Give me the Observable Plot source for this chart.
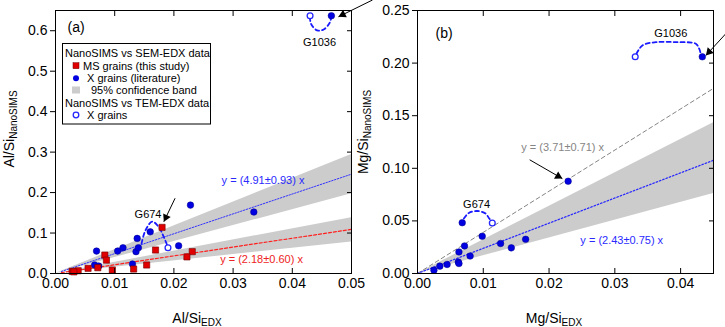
<!DOCTYPE html>
<html><head><meta charset="utf-8">
<script src="https://cdn.jsdelivr.net/npm/d3@7"></script>
<script src="https://cdn.jsdelivr.net/npm/@observablehq/plot@0.6"></script>
<style>
body{margin:0;background:#fff;}
#wrap{display:flex;width:725px;height:327px;}
#wrap svg{overflow:visible;display:block;}
</style></head><body><div id="wrap"><div id="pa"></div><div id="pb"></div></div>
<script>
// ================= Panel (a): Al/Si =================
// MS grains (this study), NanoSIMS vs SEM-EDX
const msAlEdx  = [0.0180, 0.00833, 0.0086, 0.0169, 0.0231, 0.0222, 0.0154, 0.0132, 0.0096, 0.00715, 0.0055, 0.00383, 0.0028, 0.0031];
const msAlSims = [0.114, 0.0456, 0.033, 0.058, 0.054, 0.041, 0.021, 0.011, 0.0086, 0.0143, 0.0128, 0.0069, 0.0054, 0.0040];
// X grains (literature), NanoSIMS vs SEM-EDX
const xAlEdx  = [0.0228, 0.00693, 0.0105, 0.0114, 0.0138, 0.0136, 0.0140, 0.0160, 0.0208, 0.0066, 0.0073, 0.0130, 0.0335, 0.0466];
const xAlSims = [0.169, 0.0554, 0.0554, 0.0636, 0.0867, 0.054, 0.0636, 0.103, 0.0685, 0.021, 0.0185, 0.0234, 0.152, 0.637];
// X grains, NanoSIMS vs TEM-EDX (G1036, G674)
const temAlEdx  = [0.0430, 0.0190];
const temAlSims = [0.637, 0.0636];
// fits and 95% bands (read at the ends)
const fitBlueA = {x: [0.001, 0.05], y: [0.005, 0.2455]};
const fitRedA  = {x: [0.001, 0.05], y: [0.002, 0.109]};
const bandBlueA = {x: [0, 0.05], lo: [0, 0.197], hi: [0, 0.294]};
const bandRedA  = {x: [0, 0.05], lo: [0, 0.078], hi: [0, 0.138]};
// dashed connectors between SEM and TEM values
const arcA1 = {x: [0.04296, 0.0432, 0.0442, 0.0453, 0.04633, 0.04657], y: [0.634, 0.616, 0.601, 0.603, 0.620, 0.634]};
const arcA2 = {x: [0.01453, 0.0152, 0.01633, 0.01745, 0.0183, 0.01887], y: [0.0739, 0.1066, 0.128, 0.1148, 0.090, 0.0697]};
const xTicksA = [0, 0.01, 0.02, 0.03, 0.04, 0.05];
const yTicksA = [0, 0.1, 0.2, 0.3, 0.4, 0.5, 0.6];

// ================= Panel (b): Mg/Si =================
const xMgEdx  = [0.0068, 0.00984, 0.00715, 0.0063, 0.0080, 0.0062, 0.0063, 0.0045, 0.0034, 0.0025, 0.01263, 0.01426, 0.01644, 0.0229, 0.0433];
const xMgSims = [0.0483, 0.0354, 0.0262, 0.0205, 0.0166, 0.0110, 0.0095, 0.0086, 0.0070, 0.0032, 0.0285, 0.0244, 0.0325, 0.0877, 0.206];
const temMgEdx  = [0.01137, 0.0331];
const temMgSims = [0.048, 0.206];
const fitGrayB = {x: [0, 0.045], y: [0, 0.176]};
const fitBlueB = {x: [0, 0.045], y: [0, 0.1076]};
const bandB = {x: [0, 0.045], lo: [0, 0.076], hi: [0, 0.1434]};
const arcB1 = {x: [0.03329, 0.0342, 0.03623, 0.03927, 0.04231, 0.04282, 0.04307], y: [0.2089, 0.2168, 0.2199, 0.2199, 0.2184, 0.2137, 0.2089]};
const arcB2 = {x: [0.00705, 0.00781, 0.00909, 0.01035, 0.01085, 0.01122], y: [0.0522, 0.0576, 0.0594, 0.0570, 0.0528, 0.0500]};
const xTicksB = [0, 0.01, 0.02, 0.03, 0.04];
const yTicksB = [0, 0.05, 0.10, 0.15, 0.20, 0.25];

// ---------- helpers ----------
const FONT = "'Liberation Sans', Arial, Helvetica, sans-serif";
const BLUE = "#0000e0", BLUE_L = "#2626ff", RED = "#e00000", GRAY_BAND = "#cccccc";
const pts = (xs, ys) => xs.map((x, i) => ({x, y: ys[i]}));
const band = b => b.x.map((x, i) => ({x, lo: b.lo[i], hi: b.hi[i]}));

function arrowMarks(arrows, kx, ky) {
  return arrows.flatMap(a => {
    const dxp = (a.x2 - a.x1) * kx, dyp = -(a.y2 - a.y1) * ky;
    const L = Math.hypot(dxp, dyp), ux = dxp / L, uy = dyp / L;
    const ang = Math.atan2(ux, -uy) * 180 / Math.PI;
    const back = 4.8;
    return [
      Plot.link([a], {x1: "x1", y1: "y1", x2: "x2", y2: "y2", stroke: "black", strokeWidth: 1}),
      Plot.dot([a], {x: "x2", y: "y2", symbol: "triangle", r: 3.1, fill: "black", stroke: "none", rotate: ang, dx: -ux * back, dy: -uy * back})
    ];
  });
}
function frameAxes(xt, yt, xfmt, yfmt) {
  return [
    Plot.frame({stroke: "black", strokeWidth: 1}),
    Plot.axisY({ticks: yt, anchor: "left", tickSize: 5, tickPadding: 3, tickFormat: d3.format(yfmt), label: null}),
    Plot.axisY({ticks: yt, anchor: "right", tickSize: 5, dx: -5, tickFormat: () => "", label: null}),
    Plot.axisX({ticks: xt, anchor: "bottom", tickSize: 0, tickPadding: 5, tickFormat: d3.format(xfmt), label: null}),
    Plot.axisX({ticks: xt, anchor: "bottom", tickSize: 5, dy: -5, tickFormat: () => "", label: null}),
    Plot.axisX({ticks: xt, anchor: "top", tickSize: 5, dy: 5, tickFormat: () => "", label: null})
  ];
}
function titles(svg, yMain, ySub, yx, yy, xMain, xSub, xx, xy) {
  const s = d3.select(svg);
  const t = s.append("text").attr("transform", `translate(${yx},${yy}) rotate(-90)`)
    .attr("text-anchor", "middle").attr("font-size", 14).attr("fill", "black");
  t.append("tspan").text(yMain);
  t.append("tspan").attr("font-size", 10).attr("dy", 3).text(ySub);
  const u = s.append("text").attr("x", xx).attr("y", xy)
    .attr("text-anchor", "middle").attr("font-size", 14).attr("fill", "black");
  u.append("tspan").text(xMain);
  u.append("tspan").attr("font-size", 10).attr("dy", 3).text(xSub);
}
const lineOpts = (stroke, w, dash, extra = {}) => ({x: "x", y: "y", stroke, strokeWidth: w, strokeDasharray: dash, ...extra});
const arcOpts = lineOpts("#1a1aff", 1.8, "4,3", {curve: "catmull-rom"});

// ---------- Panel (a) ----------
const WA = 360, HA = 327, mA = {l: 55, r: 9, t: 10, b: 54};
const kxA = (WA - mA.l - mA.r) / 0.05, kyA = (HA - mA.t - mA.b) / 0.65;
const plotA = Plot.plot({
  width: WA, height: HA, marginLeft: mA.l, marginRight: mA.r, marginTop: mA.t, marginBottom: mA.b,
  x: {domain: [0, 0.05], label: null}, y: {domain: [0, 0.65], label: null},
  style: {fontFamily: FONT, fontSize: "14px", background: "transparent", overflow: "visible", color: "black"},
  marks: [
    Plot.areaY(band(bandBlueA), {x: "x", y1: "lo", y2: "hi", fill: GRAY_BAND}),
    Plot.areaY(band(bandRedA), {x: "x", y1: "lo", y2: "hi", fill: GRAY_BAND}),
    Plot.line(pts(fitBlueA.x, fitBlueA.y), lineOpts("#3333ff", 1, "1.5,1.5")),
    Plot.line(pts(fitRedA.x, fitRedA.y), lineOpts("#ff2020", 1.2, "3,2")),
    Plot.line(pts(arcA1.x, arcA1.y), arcOpts),
    Plot.line(pts(arcA2.x, arcA2.y), arcOpts),
    ...arrowMarks([
      {x1: 0.05355, y1: 0.676, x2: 0.0478, y2: 0.6345},
      {x1: 0.0202, y1: 0.186, x2: 0.0183, y2: 0.128}
    ], kxA, kyA),
    Plot.dot(pts(xAlEdx, xAlSims), {x: "x", y: "y", r: 3.3, fill: BLUE, stroke: "#00008a", strokeWidth: 0.5}),
    Plot.dot(pts(msAlEdx, msAlSims), {x: "x", y: "y", symbol: "square", r: 3.5, fill: RED, stroke: "#700000", strokeWidth: 0.6}),
    Plot.dot(pts(temAlEdx, temAlSims), {x: "x", y: "y", r: 2.9, fill: "white", stroke: BLUE_L, strokeWidth: 1.3}),
    Plot.text(["G1036"], {x: 0.0446, y: 0.572, text: d => d, fontSize: 11, fill: "black"}),
    Plot.text(["G674"], {x: 0.01563, y: 0.1448, text: d => d, fontSize: 11, fill: "black"}),
    Plot.text(["y = (4.91±0.93) x"], {x: 0.03505, y: 0.231, text: d => d, fontSize: 11, fill: "#2a2aff"}),
    Plot.text(["y = (2.18±0.60) x"], {x: 0.0348, y: 0.0352, text: d => d, fontSize: 11, fill: "#ee2222"}),
    Plot.text(["(a)"], {frameAnchor: "top-left", text: d => d, dx: 12, dy: 12, fontSize: 14, textAnchor: "start", lineAnchor: "top"}),
    ...frameAxes(xTicksA, yTicksA, ".2f", ".1f")
  ]
});
titles(plotA, "Al/Si", "NanoSIMS", 14, 129, "Al/Si", "EDX", 197, 323);

// legend (panel a)
{
  const g = d3.select(plotA).append("g").attr("font-size", 11).attr("fill", "black").attr("text-anchor", "start");
  g.append("rect").attr("x", 62.5).attr("y", 43.5).attr("width", 148).attr("height", 80.5)
    .attr("fill", "white").attr("stroke", "black").attr("stroke-width", 1);
  const tx = (x, y, s) => g.append("text").attr("x", x).attr("y", y).attr("text-anchor", "start").text(s);
  tx(65, 57.3, "NanoSIMS vs SEM-EDX data");
  g.append("rect").attr("x", 73).attr("y", 62.7).attr("width", 6).attr("height", 6).attr("fill", RED).attr("stroke", "#700000").attr("stroke-width", 0.5);
  tx(83, 69.7, "MS grains (this study)");
  g.append("circle").attr("cx", 76).attr("cy", 78.3).attr("r", 3).attr("fill", BLUE);
  tx(87, 82.3, "X grains (literature)");
  g.append("rect").attr("x", 72).attr("y", 86.5).attr("width", 8).attr("height", 7).attr("fill", GRAY_BAND);
  tx(91, 94, "95% confidence band");
  tx(65, 106.7, "NanoSIMS vs TEM-EDX data");
  g.append("circle").attr("cx", 76).attr("cy", 115).attr("r", 2.8).attr("fill", "white").attr("stroke", BLUE_L).attr("stroke-width", 1.3);
  tx(87, 119, "X grains");
}
document.getElementById("pa").append(plotA);

// ---------- Panel (b) ----------
const WB = 365, HB = 327, mB = {l: 57, r: 12, t: 10, b: 54};
const kxB = (WB - mB.l - mB.r) / 0.045, kyB = (HB - mB.t - mB.b) / 0.25;
const plotB = Plot.plot({
  width: WB, height: HB, marginLeft: mB.l, marginRight: mB.r, marginTop: mB.t, marginBottom: mB.b,
  x: {domain: [0, 0.045], label: null}, y: {domain: [0, 0.25], label: null},
  style: {fontFamily: FONT, fontSize: "14px", background: "transparent", overflow: "visible", color: "black"},
  marks: [
    Plot.areaY(band(bandB), {x: "x", y1: "lo", y2: "hi", fill: GRAY_BAND}),
    Plot.line(pts(fitGrayB.x, fitGrayB.y), lineOpts("#858585", 1, "4,3")),
    Plot.line(pts(fitBlueB.x, fitBlueB.y), lineOpts("#2626ff", 1.3, "1.5,2")),
    Plot.line(pts(arcB1.x, arcB1.y), arcOpts),
    Plot.line(pts(arcB2.x, arcB2.y), arcOpts),
    ...arrowMarks([
      {x1: 0.04688, y1: 0.228, x2: 0.04384, y2: 0.2073},
      {x1: 0.01705, y1: 0.1081, x2: 0.02202, y2: 0.0902}
    ], kxB, kyB),
    Plot.dot(pts(xMgEdx, xMgSims), {x: "x", y: "y", r: 3.3, fill: BLUE, stroke: "#00008a", strokeWidth: 0.5}),
    Plot.dot(pts(temMgEdx, temMgSims), {x: "x", y: "y", r: 2.9, fill: "white", stroke: BLUE_L, strokeWidth: 1.3}),
    Plot.text(["G1036"], {x: 0.03851, y: 0.2285, text: d => d, fontSize: 11, fill: "black"}),
    Plot.text(["G674"], {x: 0.00898, y: 0.0658, text: d => d, fontSize: 11, fill: "black"}),
    Plot.text(["y = (3.71±0.71) x"], {x: 0.02207, y: 0.1199, text: d => d, fontSize: 11, fill: "#858585"}),
    Plot.text(["y = (2.43±0.75) x"], {x: 0.03105, y: 0.0311, text: d => d, fontSize: 11, fill: "#2a2aff"}),
    Plot.text(["(b)"], {frameAnchor: "top-left", text: d => d, dx: 18, dy: 18, fontSize: 14, textAnchor: "start", lineAnchor: "top"}),
    ...frameAxes(xTicksB, yTicksB, ".2f", ".2f")
  ]
});
titles(plotB, "Mg/Si", "NanoSIMS", 8, 132, "Mg/Si", "EDX", 194, 323);
document.getElementById("pb").append(plotB);
</script></body></html>
